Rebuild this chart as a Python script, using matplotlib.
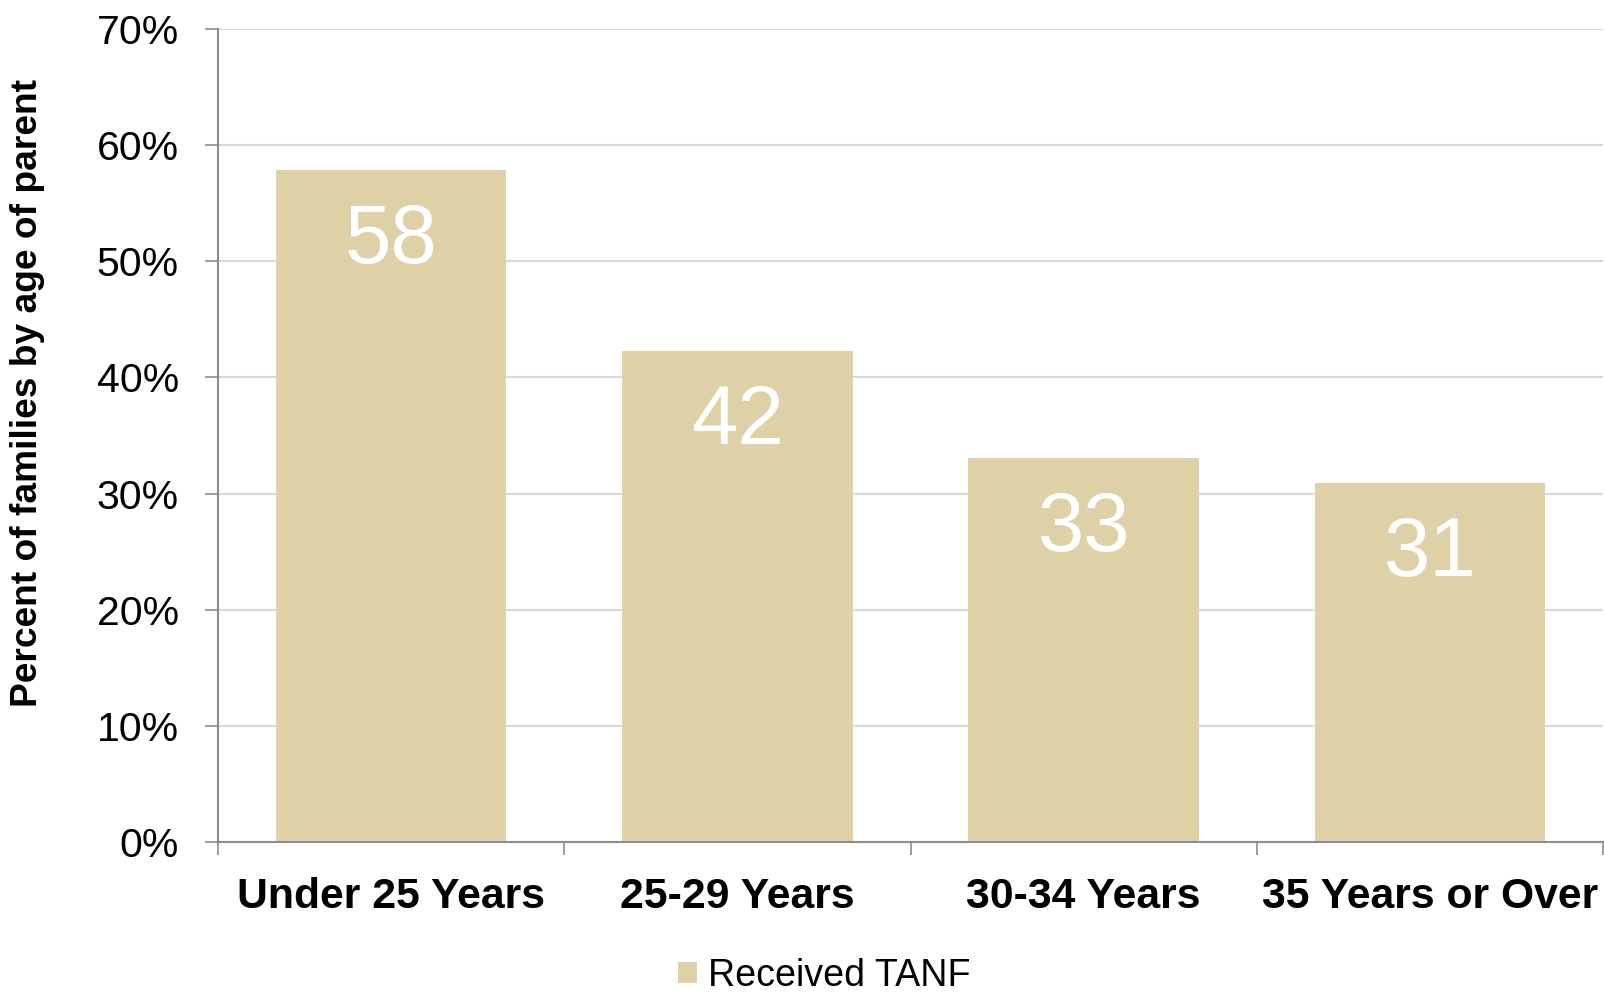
import numpy as np
import matplotlib.pyplot as plt
from matplotlib.ticker import FixedLocator, FuncFormatter

plt.rcParams['font.family'] = ['Liberation Sans', 'DejaVu Sans']

categories = ['Under 25 Years', '25-29 Years', '30-34 Years', '35 Years or Over']
tanf_pct = [57.9, 42.3, 33.1, 30.9]
bar_labels = ['58', '42', '33', '31']
yticks = [0, 10, 20, 30, 40, 50, 60, 70]

bar_color = '#DED1A8'
axis_gray = '#8C8C8C'

fig = plt.figure(figsize=(16.04, 9.94), dpi=100)
ax = fig.add_axes([0.1359, 0.1529, 0.8635, 0.8179])

x = np.arange(len(categories))
bars = ax.bar(x, tanf_pct, width=0.666, color=bar_color, label='Received TANF', zorder=2)

for rect, lab in zip(bars, bar_labels):
    ax.annotate(lab, (rect.get_x() + rect.get_width() / 2, rect.get_height()),
                xytext=(0, -67), textcoords='offset points',
                ha='center', va='baseline', color='white', fontsize=60, zorder=3)

ax.set_xlim(-0.5, len(categories) - 0.5)
ax.set_ylim(0, 70)

# y axis: percent ticks with outward tick marks
ax.set_yticks(yticks)
ax.yaxis.set_major_formatter(FuncFormatter(lambda v, p: f'{v:.0f}%'))
ax.tick_params(axis='y', length=9.1, width=1.2, color=axis_gray, pad=19,
               labelsize=29.5, labelcolor='black')
ax.grid(axis='y', color='#D9D9D9', linewidth=1.5, zorder=0)

# x axis: labels at centres, tick marks at category boundaries
ax.set_xticks(x)
ax.set_xticklabels(categories, fontweight='bold')
ax.tick_params(axis='x', which='major', length=0, pad=25, labelsize=30.8)
ax.xaxis.set_minor_locator(FixedLocator(np.arange(-0.5, len(categories), 1.0)))
ax.tick_params(axis='x', which='minor', length=9.1, width=1.2, color=axis_gray)

for side in ['top', 'right']:
    ax.spines[side].set_visible(False)
for side in ['left', 'bottom']:
    ax.spines[side].set_color(axis_gray)
    ax.spines[side].set_linewidth(1.5)

ax.set_ylabel('Percent of families by age of parent', fontsize=26.7,
              fontweight='bold')
ax.yaxis.set_label_coords(-0.125, 0.552)

fig.legend(handles=[bars], labels=['Received TANF'], loc='center',
           bbox_to_anchor=(0.514, 0.018), frameon=False, fontsize=27.1,
           handlelength=0.5, handleheight=0.5, handletextpad=0.3,
           borderpad=0.1)

fig.savefig('out.png', dpi=100)
